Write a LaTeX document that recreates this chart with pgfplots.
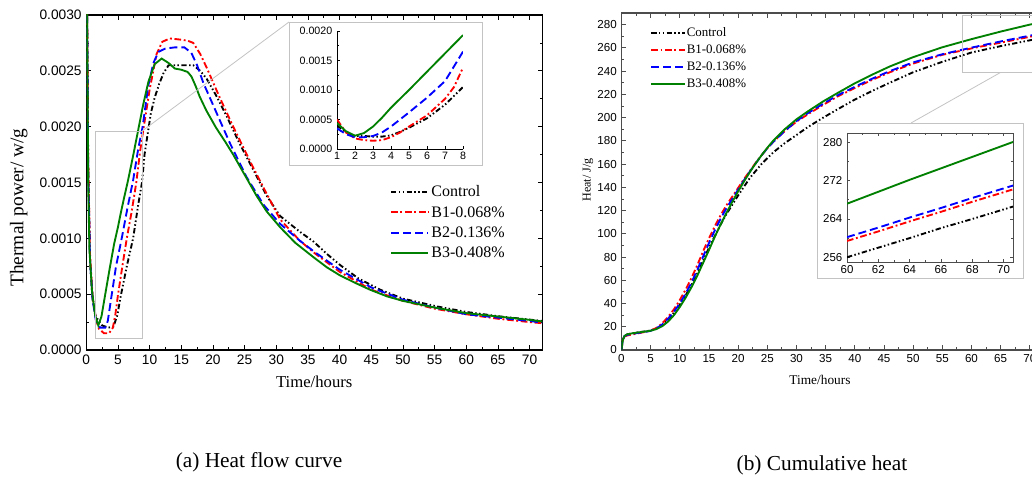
\documentclass[border=0pt]{standalone}
\usepackage{fontspec}
\setmainfont{Liberation Serif}
\newfontfamily\arial{Liberation Sans}
\usepackage{pgfplots}
\pgfplotsset{compat=1.18}
\definecolor{ogreen}{RGB}{0,128,0}
\definecolor{zoomframe}{RGB}{195,195,195}

\pgfplotsset{
  ctrl/.style={black, line width=1.4pt, dash pattern=on 4pt off 1.8pt on 1.1pt off 1.8pt on 1.1pt off 1.8pt},
  bone/.style={red, line width=1.4pt, dash pattern=on 5pt off 2pt on 1.4pt off 2pt},
  btwo/.style={blue, line width=1.4pt, dash pattern=on 6pt off 3pt},
  bthree/.style={ogreen, line width=1.4pt},
  base/.style={scale only axis, anchor=south west, tick align=inside,
    major tick length=3.5pt, minor tick length=2pt,
    /pgf/number format/assume math mode=true,
    every tick/.style={line width=0.6pt}, legend cell align=left},
}

\begin{document}
\begin{tikzpicture}
\path[use as bounding box] (0,0) rectangle (774pt,363.75pt);

% (a) heat flow
\begin{axis}[base,
  at={(64.7pt,101.25pt)}, width=342pt, height=251.25pt,
  xmin=0, xmax=72, ymin=0, ymax=0.003,
  xtick={0,5,...,70}, ytick={0,0.0005,0.001,0.0015,0.002,0.0025,0.003},
  minor x tick num=1, minor y tick num=1,
  scaled y ticks=false,
  yticklabel style={/pgf/number format/.cd, fixed, fixed zerofill, precision=4},
  tick label style={font=\arial\fontsize{10.3}{12}\selectfont},
  axis line style={line width=0.8pt},
  xlabel={Time/hours},
  xlabel style={font=\fontsize{12.5}{14}\selectfont, at={(axis description cs:0.5,-0.0955)}, anchor=center},
  ylabel={Thermal power/ w/g},
  ylabel style={font=\fontsize{14.5}{16}\selectfont, at={(axis description cs:-0.148,0.425)}, anchor=center},
  legend style={at={(0.666,0.5)}, anchor=north west, draw=none, fill=none, inner sep=0pt,
    font=\fontsize{12}{14}\selectfont, row sep=1.2pt,
    nodes={text height=9pt, text depth=2pt, inner sep=1.5pt}},
  legend image code/.code={\draw[#1] (0pt,0pt) -- (28pt,0pt);},
]
\addplot[ctrl] coordinates {(0,0.0045)(0.15,0.003)(0.3,0.0017)(0.6,0.0008)(1,0.00045)(1.5,0.0003)(2.5,0.00022)(3.5,0.0002)(4.3,0.00021)(4.9,0.00031)(5.4,0.00047)(6.4,0.00075)(7.4,0.001)(8.2,0.0013)(8.8,0.0015)(9.2,0.00175)(9.6,0.0019)(10.2,0.00212)(10.8,0.00226)(11.5,0.00238)(12.2,0.00248)(13,0.00255)(14.8,0.00255)(16.9,0.00255)(18,0.0025)(19,0.00243)(20.5,0.00228)(22.2,0.00209)(24.2,0.00185)(26.5,0.0016)(28.5,0.00138)(30.6,0.0012)(33.7,0.00106)(35.9,0.00097)(38,0.00086)(40.1,0.00076)(43,0.00064)(46.4,0.00054)(50,0.00046)(55.4,0.00039)(60.1,0.00034)(65.4,0.0003)(72,0.00026)};
\addlegendentry{Control}
\addplot[bone] coordinates {(0,0.0045)(0.15,0.003)(0.3,0.0017)(0.6,0.00085)(1,0.00048)(1.5,0.00028)(2,0.00019)(2.8,0.00015)(3.6,0.00015)(4.2,0.0002)(4.6,0.00032)(5,0.00049)(5.7,0.00075)(6.4,0.001)(7.2,0.00125)(7.9,0.0015)(8.5,0.00178)(9,0.00197)(10,0.00233)(11.1,0.00265)(12,0.00276)(13.2,0.00279)(14.8,0.00278)(16,0.00277)(16.9,0.00275)(18,0.00265)(19,0.00253)(21,0.00227)(23.2,0.002)(26.3,0.00164)(28.2,0.00143)(30.6,0.00117)(33.7,0.00098)(36,0.00087)(40,0.0007)(45,0.00054)(50,0.00044)(55,0.00037)(60,0.00032)(65,0.00028)(70,0.00025)(72,0.00024)};
\addlegendentry{B1-0.068\%}
\addplot[btwo] coordinates {(0,0.0045)(0.15,0.0029)(0.3,0.0016)(0.6,0.0008)(1,0.00045)(1.5,0.00027)(2.2,0.0002)(3,0.0002)(3.4,0.00026)(3.9,0.00045)(4.7,0.00075)(5.6,0.001)(6.5,0.00127)(7.4,0.00152)(8.2,0.0018)(8.9,0.002)(9.8,0.00237)(10.6,0.00257)(11.4,0.00267)(12.5,0.0027)(14,0.00271)(15.5,0.00271)(16.6,0.00266)(17.5,0.00255)(18.5,0.00239)(20.6,0.00212)(22.7,0.00185)(25.3,0.00155)(28,0.0013)(30.6,0.00113)(33.7,0.00098)(36,0.00088)(40,0.00072)(45,0.00056)(50,0.00045)(55,0.00038)(60,0.00032)(65,0.00029)(70,0.00026)(72,0.000245)};
\addlegendentry{B2-0.136\%}
\addplot[bthree] coordinates {(0,0.0045)(0.15,0.0028)(0.3,0.0015)(0.5,0.0009)(0.9,0.00053)(1.4,0.00031)(1.9,0.00022)(2.4,0.0003)(3,0.0005)(3.7,0.00073)(4.4,0.00095)(5,0.0011)(5.5,0.00124)(6,0.00137)(6.6,0.00152)(7.4,0.00174)(8.2,0.00197)(9,0.0022)(9.8,0.0024)(10.8,0.00256)(11.9,0.00261)(13,0.00257)(14,0.00252)(15,0.00251)(16,0.00249)(16.6,0.00245)(17.3,0.00236)(17.9,0.00227)(19,0.00214)(20.5,0.00199)(22,0.00186)(23.2,0.00175)(25,0.00157)(26.9,0.00138)(28.5,0.00124)(30.6,0.0011)(33,0.00096)(35.9,0.00083)(38,0.00074)(40,0.00067)(42.5,0.0006)(44.8,0.00054)(47.5,0.00048)(50,0.00044)(55,0.00038)(60,0.00033)(65,0.0003)(70,0.00027)(72,0.000255)};
\addlegendentry{B3-0.408\%}
\draw[zoomframe, line width=0.6pt] (axis cs:1.4,0.0001) rectangle (axis cs:8.8,0.00196);
\coordinate (lzr) at (axis cs:8.8,0.00196);
\end{axis}

\draw[zoomframe, line width=0.6pt] (lzr) -- (216.75pt,347.25pt);
\draw[zoomframe, line width=0.6pt, fill=white] (216.75pt,240pt) rectangle (361.5pt,347.25pt);

\begin{axis}[base,
  at={(252.75pt,252pt)}, width=94.5pt, height=88.5pt,
  axis lines*=left, axis line style={line width=0.6pt},
  xmin=1, xmax=8, ymin=0, ymax=0.002,
  xtick={1,...,8}, ytick={0,0.0005,0.001,0.0015,0.002},
  minor y tick num=1, major tick length=2.5pt, minor tick length=1.5pt,
  scaled y ticks=false,
  yticklabel style={/pgf/number format/.cd, fixed, fixed zerofill, precision=4},
  tick label style={font=\arial\fontsize{8}{9}\selectfont},
  xticklabel style={yshift=1pt},
]
\addplot[ctrl] coordinates {(1,0.0004)(1.5,0.00028)(2,0.00022)(2.5,0.00022)(3,0.00021)(3.5,0.00021)(4,0.00023)(4.5,0.00029)(5,0.00036)(6,0.00052)(7,0.00075)(8,0.00105)};
\addplot[bone] coordinates {(1,0.0005)(1.5,0.00028)(2,0.00018)(2.5,0.00015)(3,0.00014)(3.5,0.00015)(4,0.0002)(4.5,0.00028)(5,0.00038)(6,0.00057)(7,0.00085)(7.5,0.00105)(8,0.00138)};
\addplot[btwo] coordinates {(1,0.00035)(1.5,0.00025)(2,0.0002)(2.5,0.0002)(3,0.00022)(3.5,0.00028)(4,0.00038)(5,0.00062)(6,0.00087)(7,0.00115)(8,0.00165)};
\addplot[bthree] coordinates {(1,0.00044)(1.5,0.0003)(2,0.000225)(2.5,0.00027)(3,0.00038)(3.5,0.00053)(4,0.0007)(5,0.001)(6,0.00131)(7,0.00162)(8,0.00193)};
\end{axis}

% (b) cumulative heat
\begin{axis}[base,
  at={(466.1pt,101.25pt)}, width=315pt, height=252.75pt,
  xmin=0, xmax=72, ymin=0, ymax=290,
  xtick={0,5,...,70}, ytick={0,20,...,280},
  minor x tick num=1, minor y tick num=1,
  axis line style={black!70, line width=0.8pt},
  every tick/.append style={black!70},
  tick label style={font=\arial\fontsize{8.7}{10}\selectfont},
  xlabel={Time/hours},
  xlabel style={font=\fontsize{10}{12}\selectfont, at={(axis description cs:0.4726,-0.089)}, anchor=center},
  ylabel={Heat/ J/g},
  ylabel style={font=\fontsize{9}{11}\selectfont, at={(axis description cs:-0.08,0.504)}, anchor=center},
  legend style={at={(0.068,0.9635)}, anchor=north west, draw=none, fill=none, inner sep=0pt,
    font=\fontsize{9.7}{11}\selectfont, row sep=1.25pt,
    nodes={text height=7.5pt, text depth=2pt, inner sep=1pt}},
  legend image code/.code={\draw[#1] (0pt,0pt) -- (25pt,0pt);},
]
\addplot[ctrl] coordinates {(0,0)(0.2,8)(0.5,12)(1,13.5)(2,14.5)(3,15.3)(4,16)(5,16.8)(6,18.5)(7,21.5)(8,26)(9,32)(10,39)(11,47)(12,56)(13,66)(14,77)(15,88)(16,98)(17,108)(18,117)(19,125)(20,133)(22,148)(24,160)(26,170)(28,178)(30,185)(32,192)(34.6,200)(37,207)(40,215.5)(43,223)(46,230)(50,239)(55,248)(60,256)(65,261.5)(70,266.5)(72,268.5)};
\addlegendentry{Control}
\addplot[bone] coordinates {(0,0)(0.2,8)(0.5,11.5)(1,12.5)(2,13.5)(3,14.5)(4,15.5)(5,16.8)(6,19)(7,23)(8,28.5)(9,35)(10,43)(11,52)(12,62)(13,73)(14,85)(15,96)(16,106.5)(17,116)(18,124.5)(19,132)(20,139.5)(21,147)(22,154)(23,161)(24,167.5)(25,173.5)(26,179)(28,188.5)(30,196.5)(32,203)(34.6,211)(37,218)(40,225.5)(43,232.5)(46,239)(50,246.5)(55,254)(60,259.5)(65,264.5)(70,269.5)(72,271.5)};
\addlegendentry{B1-0.068\%}
\addplot[btwo] coordinates {(0,0)(0.2,8)(0.5,12)(1,13)(2,14)(3,14.8)(4,15.5)(5,16.5)(6,18.5)(7,22)(8,27)(9,33)(10,40)(11,48.5)(12,58)(13,69)(14,80.5)(15,92)(16,103)(17,113)(18,122)(19,130)(20,138)(21,146)(22,153.5)(23,160.5)(24,167.5)(25,173.5)(26,179)(28,188.5)(30,197)(32,204)(34.6,212)(37,219)(40,226.5)(43,233.5)(46,240)(50,247.5)(55,254.5)(60,260.2)(65,265.5)(70,270.5)(72,272.5)};
\addlegendentry{B2-0.136\%}
\addplot[bthree] coordinates {(0,0)(0.2,8)(0.5,12)(1,13.5)(2,14.5)(3,15.2)(4,15.8)(5,16.6)(6,18)(7,20.5)(8,24.5)(9,30)(10,37)(11,45)(12,54)(13,64)(14,75)(15,86)(16,97.5)(17,108)(18,118)(19,127.5)(20,136.5)(21,145)(22,153)(23,160.5)(24,167.5)(25,174)(26,180)(28,190)(30,198.5)(32,205.5)(34.6,214)(37,221)(40,229.5)(43,237)(46,244)(50,252)(55,260.5)(60,267.5)(65,274)(70,280)(72,282)};
\addlegendentry{B3-0.408\%}
\draw[zoomframe, line width=0.6pt] (axis cs:58.5,238.6) rectangle (axis cs:75,287.8);
\coordinate (rzr) at (axis cs:64.9,238.6);
\end{axis}

\draw[zoomframe, line width=0.6pt] (rzr) -- (683.25pt,271.5pt);
\draw[zoomframe, line width=0.6pt, fill=white] (612.75pt,155.25pt) rectangle (767.25pt,271.5pt);

\begin{axis}[base,
  at={(635.25pt,167.25pt)}, width=124.5pt, height=96.75pt,
  axis line style={black!70, line width=0.7pt},
  every tick/.append style={black!70},
  xmin=60, xmax=70.6, ymin=255, ymax=282,
  xtick={60,62,...,70}, ytick={256,264,272,280},
  minor x tick num=1, minor y tick num=1,
  major tick length=2.5pt, minor tick length=1.5pt,
  tick label style={font=\arial\fontsize{8.6}{10}\selectfont},
  xticklabel style={yshift=1pt},
]
\addplot[ctrl] coordinates {(60,256)(62,258)(64,260)(66,262.1)(68,264)(70,266)(71,267)};
\addplot[bone] coordinates {(60,259.4)(62,261.4)(64,263.5)(66,265.5)(68,267.6)(70,269.6)(71,270.6)};
\addplot[btwo] coordinates {(60,260.2)(62,262.2)(64,264.3)(66,266.3)(68,268.4)(70,270.4)(71,271.4)};
\addplot[bthree] coordinates {(60,267.2)(62,269.7)(64,272.2)(66,274.6)(68,277)(70,279.4)(71,280.6)};
\end{axis}

\node[font=\fontsize{16}{19}\selectfont] at (194.25pt,17.25pt) {(a) Heat flow curve};
\node[font=\fontsize{16}{19}\selectfont] at (616.5pt,15pt) {(b) Cumulative heat};
\end{tikzpicture}
\end{document}
